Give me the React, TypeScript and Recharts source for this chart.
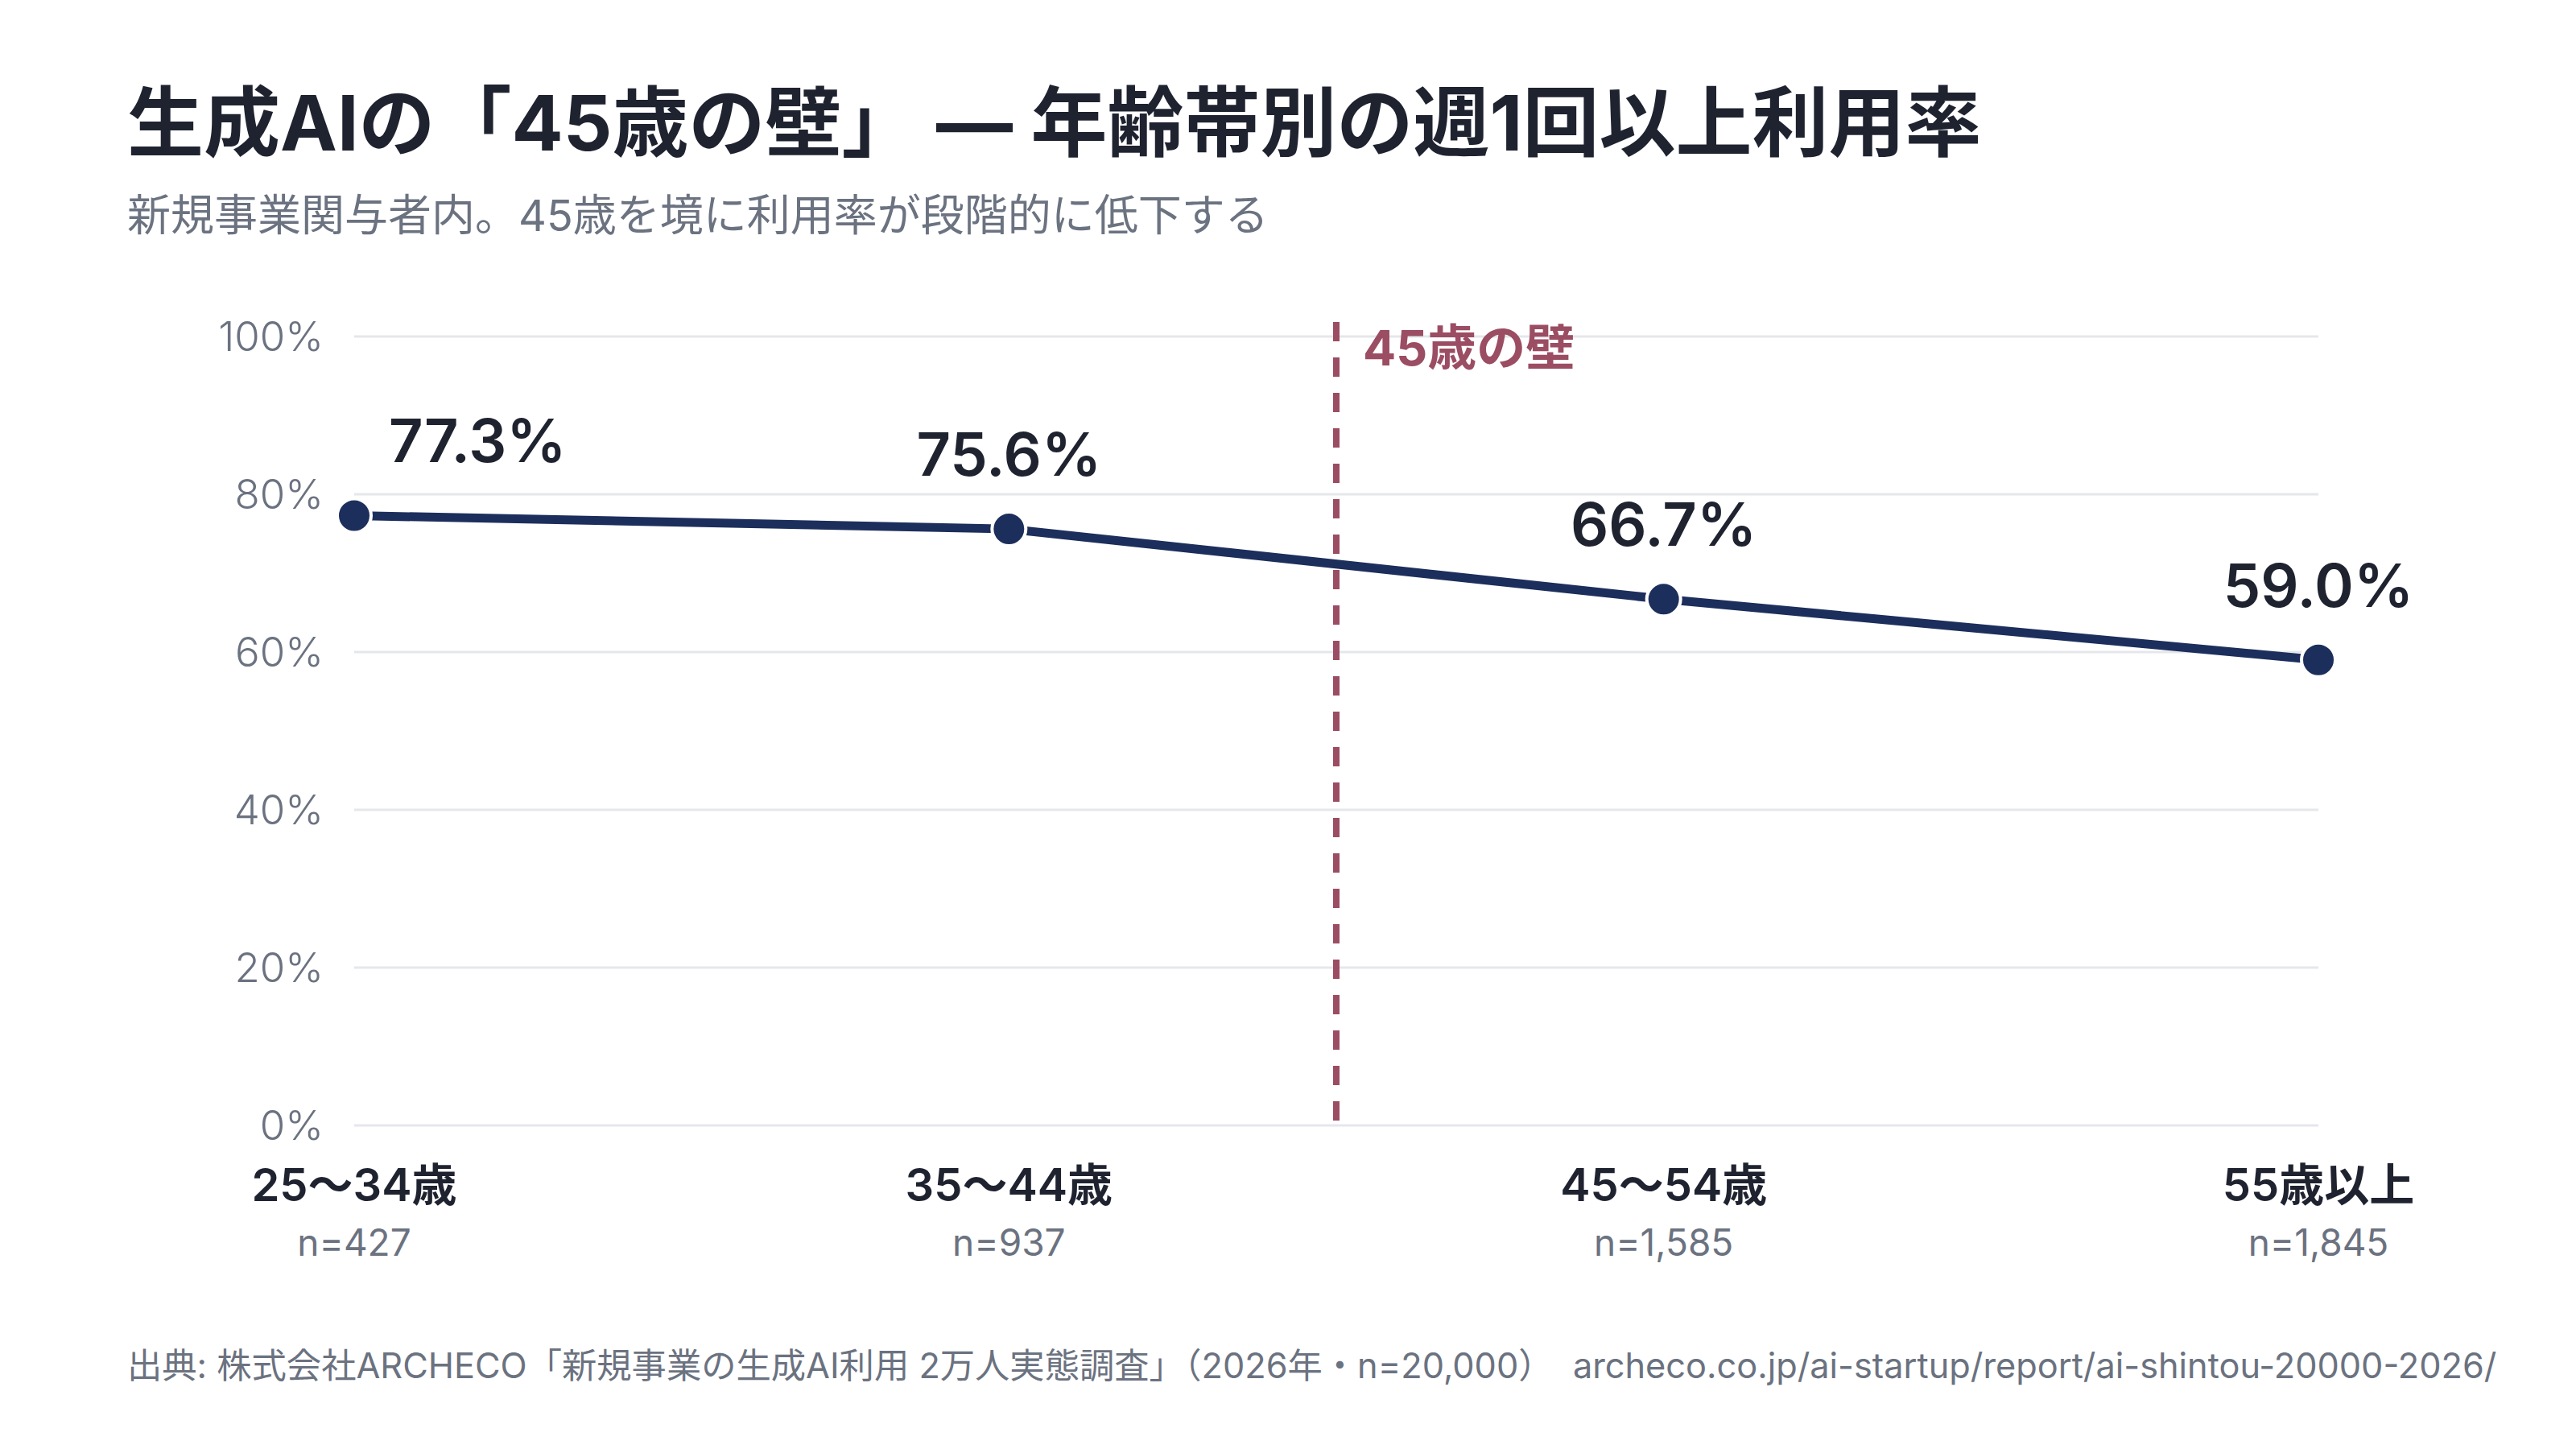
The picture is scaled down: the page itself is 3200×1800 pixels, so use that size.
import React from "react";
import {
  LineChart,
  Line,
  XAxis,
  YAxis,
  CartesianGrid,
  ReferenceLine,
  LabelList,
} from "recharts";

const ageGroups = ["25〜34歳", "35〜44歳", "45〜54歳", "55歳以上"];
const sampleSizes = ["n=427", "n=937", "n=1,585", "n=1,845"];
const weeklyRate = [77.3, 75.6, 66.7, 59.0];
const yTicks = [0, 20, 40, 60, 80, 100];
const wallPosition = 1.5;

const FONT = "Inter, 'Noto Sans CJK JP', sans-serif";
const NAVY = "#1c2e5b";
const INK = "#1f2330";
const GRAY = "#6b7280";
const WINE = "#9b4d63";

const data = weeklyRate.map((rate, i) => ({ idx: i, rate }));

const AgeTick = (props: any) => {
  const { x, y, payload } = props;
  const i = payload.value;
  return (
    <g>
      <text x={x} y={y + 94} textAnchor="middle" fontFamily={FONT} fontSize={56} fontWeight={600} fill={INK}>
        {ageGroups[i]}
      </text>
      <text x={x} y={y + 162} textAnchor="middle" fontFamily={FONT} fontSize={46} fill={GRAY}>
        {sampleSizes[i]}
      </text>
    </g>
  );
};

const RateDot = (props: any) => {
  const { cx, cy } = props;
  return <circle cx={cx} cy={cy} r={21} fill={NAVY} stroke="#ffffff" strokeWidth={4} />;
};

const RateLabel = (props: any) => {
  const { x, y, value, index } = props;
  const first = index === 0;
  return (
    <text
      x={first ? x + 43 : x}
      y={y - 66}
      textAnchor={first ? "start" : "middle"}
      fontFamily={FONT}
      fontSize={74}
      fontWeight={600}
      fill={INK}
    >
      {Number(value).toFixed(1)}%
    </text>
  );
};

const WallLabel = (props: any) => {
  const { viewBox } = props;
  return (
    <text x={viewBox.x + 33} y={viewBox.y + 55} fontFamily={FONT} fontSize={61} fontWeight={700} fill={WINE}>
      45歳の壁
    </text>
  );
};

export default function App() {
  return (
    <div style={{ position: "absolute", left: 0, top: 0, width: 3200, height: 1800, background: "#ffffff" }}>
      <LineChart
        width={3200}
        height={1800}
        data={data}
        margin={{ top: 418, right: 320, bottom: 202, left: 340 }}
      >
        <CartesianGrid vertical={false} stroke="#e5e7eb" strokeWidth={3} />
        <XAxis
          dataKey="idx"
          type="number"
          domain={[0, 3]}
          ticks={[0, 1, 2, 3]}
          axisLine={false}
          tickLine={false}
          tickSize={0}
          tickMargin={0}
          height={200}
          tick={<AgeTick />}
          interval={0}
        />
        <YAxis
          domain={[0, 100]}
          ticks={yTicks}
          width={100}
          axisLine={false}
          tickLine={false}
          tickSize={0}
          tickMargin={38}
          tickFormatter={(v: number) => `${v}%`}
          tick={{ fontSize: 51, fill: GRAY, fontFamily: FONT, fontWeight: 300 }}
        />
        <ReferenceLine
          segment={[
            { x: wallPosition, y: 0.6 },
            { x: wallPosition, y: 101.9 },
          ]}
          stroke={WINE}
          strokeWidth={8}
          strokeDasharray="24 20"
          ifOverflow="visible"
          label={<WallLabel />}
        />
        <Line
          type="linear"
          dataKey="rate"
          stroke={NAVY}
          strokeWidth={11}
          dot={<RateDot />}
          activeDot={false}
          isAnimationActive={false}
        >
          <LabelList dataKey="rate" content={<RateLabel />} />
        </Line>
      </LineChart>
      <svg
        width={3200}
        height={1800}
        style={{ position: "absolute", left: 0, top: 0, pointerEvents: "none" }}
      >
        <text x={158} y={187} fontFamily={FONT} fontSize={95} fontWeight={700} fill={INK}>
          生成AIの「45歳の壁」 — 年齢帯別の週1回以上利用率
        </text>
        <text x={158} y={287} fontFamily={FONT} fontSize={54} fill={GRAY}>
          新規事業関与者内。45歳を境に利用率が段階的に低下する
        </text>
        <text x={158} y={1712} fontFamily={FONT} fontSize={43.3} fill={GRAY} style={{ whiteSpace: "pre" }}>
          出典: 株式会社ARCHECO「新規事業の生成AI利用 2万人実態調査」（2026年・n=20,000）  archeco.co.jp/ai-startup/report/ai-shintou-20000-2026/
        </text>
      </svg>
    </div>
  );
}
